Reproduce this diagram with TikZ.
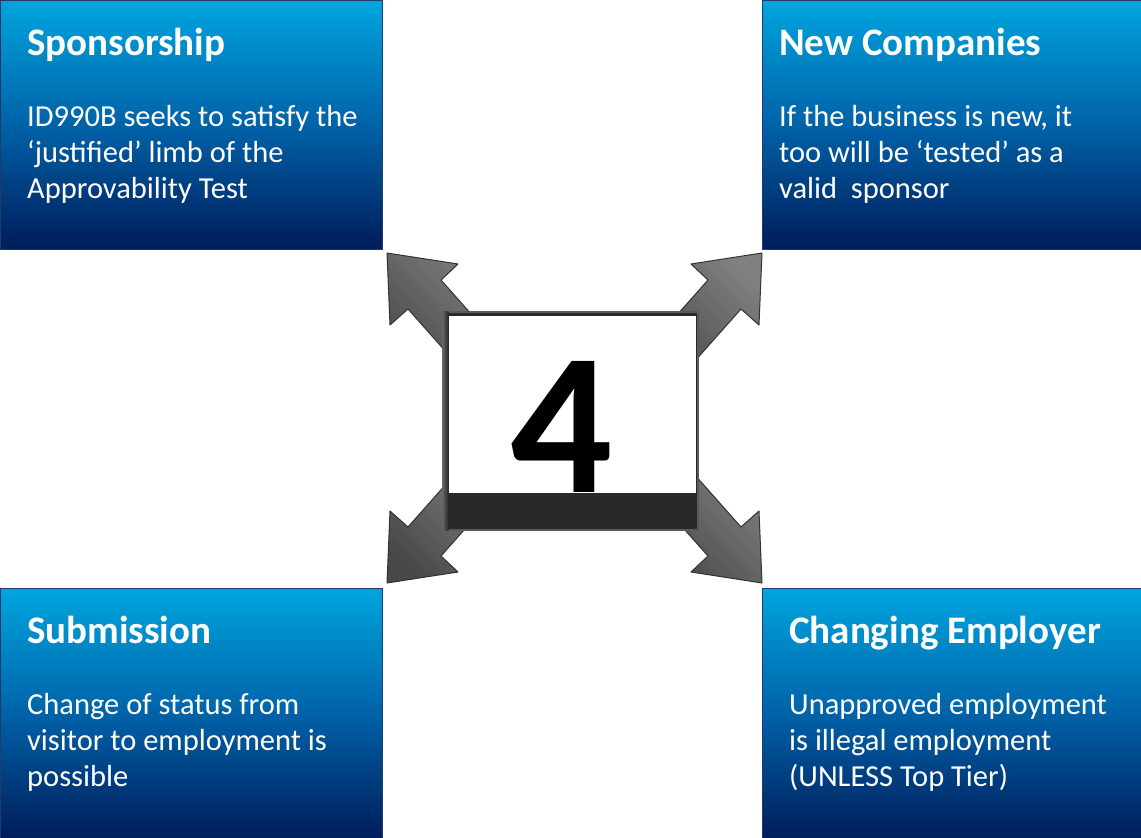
\documentclass[tikz,border=0pt]{standalone}
\usepackage{fontspec}
\setmainfont{Carlito}
\usepackage{tikz}
\usetikzlibrary{shapes}
\usetikzlibrary{calc}
\definecolor{BoxTop}{RGB}{0,165,222}
\definecolor{BoxMid}{RGB}{0,98,168}
\definecolor{BoxBot}{RGB}{0,28,90}
\definecolor{BoxLine}{RGB}{34,58,104}
\definecolor{ArrowLight}{RGB}{128,128,128}
\definecolor{ArrowDark}{RGB}{72,72,72}
\tikzstyle{InfoBox}=[rectangle, draw=BoxLine, line width=1.2pt, anchor=north west, inner sep=0pt, top color=BoxTop, bottom color=BoxBot, middle color=BoxMid]
\tikzstyle{TitleText}=[anchor=base west, inner sep=0pt, text=white, font=\fontsize{39}{46}\selectfont\bfseries]
\tikzstyle{BodyText}=[anchor=north west, inner sep=0pt, text=white, align=left, font=\fontsize{30.5}{36}\selectfont]
\tikzstyle{BlockArrow}=[draw=black!80, line width=1pt, line join=round, left color=ArrowLight, right color=ArrowDark, shading angle=-45]
\tikzstyle{NumberBox}=[rectangle, draw=black!65, line width=1.5pt, fill=black!84, inner sep=0pt, minimum width=255pt, minimum height=218pt]
\tikzstyle{NumberFace}=[rectangle, fill=white, inner sep=0pt, minimum width=247pt, minimum height=177pt]
\begin{document}
\begin{tikzpicture}[x=1pt, y=-1pt]
\useasboundingbox (0,0) rectangle (1141,838);

\node[InfoBox, minimum width=382pt, minimum height=249pt](SponsorBox) at (0,0) {};
\node[InfoBox, minimum width=379pt, minimum height=249pt](CompanyBox) at (762,0) {};
\node[InfoBox, minimum width=382pt, minimum height=250pt](SubmitBox) at (0,588) {};
\node[InfoBox, minimum width=379pt, minimum height=250pt](EmployerBox) at (762,588) {};

\node[TitleText](SponsorTitle) at (27,55) {Sponsorship};
\node[BodyText](SponsorBody) at (27,105) {ID990B seeks to satisfy the\\ ‘justified’ limb of the\\ Approvability Test};
\node[TitleText](CompanyTitle) at (779,55) {New Companies};
\node[BodyText](CompanyBody) at (779,105) {If the business is new, it\\ too will be ‘tested’ as a\\ valid\ \ sponsor};
\node[TitleText](SubmitTitle) at (27,643) {Submission};
\node[BodyText](SubmitBody) at (27,693) {Change of status from\\ visitor to employment is\\ possible};
\node[TitleText](EmployerTitle) at (789,643) {Changing Employer};
\node[BodyText](EmployerBody) at (789,693) {Unapproved employment\\ is illegal employment\\ (UNLESS Top Tier)};

\foreach \sx/\sy in {1/1, -1/1, 1/-1, -1/-1}
  \draw[BlockArrow, shift={(574.5,418)}, xscale=\sx, yscale=\sy]
    (-187.5,-165) -- (-116.5,-154) -- (-133.5,-138) -- (-67,-63) -- (-100,-34) -- (-166.5,-109) -- (-184.5,-93) -- cycle;

\node[NumberBox](NumberFrame) at (570.5,421) {};
\node[NumberFace, anchor=north east](NumberWhite) at (696,316) {};
\shade[left color=black!60, right color=black!84] (NumberFrame.north west) rectangle ($(NumberFrame.south west)+(6,0)$);
\node[inner sep=0pt, font=\fontsize{202}{202}\selectfont\bfseries](Number) at (562,427) {4};
\end{tikzpicture}
\end{document}
